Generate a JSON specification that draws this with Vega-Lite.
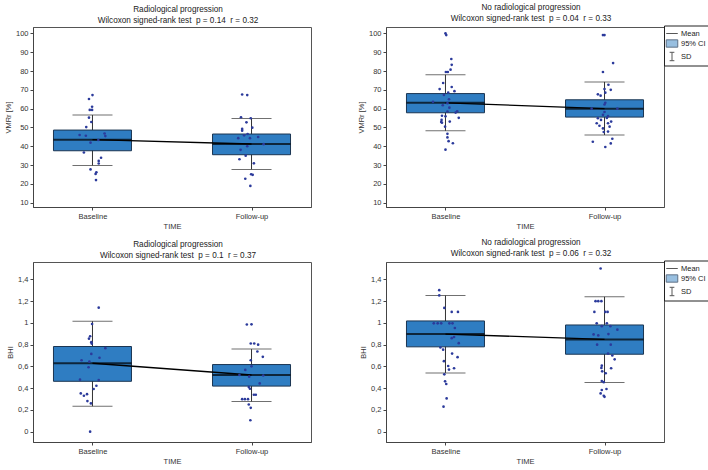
{
  "$schema": "https://vega.github.io/schema/vega-lite/v6.json",
  "padding": {"left": 3, "top": 2, "right": 0, "bottom": 0},
  "config": {
    "font": "Liberation Sans",
    "view": {"stroke": "#555", "strokeWidth": 1},
    "axis": {"labelFontSize": 7.5, "titleFontSize": 7.5, "titleFontWeight": "normal", "labelColor": "#333", "titleColor": "#333", "tickColor": "#444", "domainColor": "#444", "tickSize": 3, "labelPadding": 2, "titlePadding": 3, "grid": false, "labelOverlap": false},
    "legend": {"title": null, "strokeColor": "#222", "fillColor": "white", "padding": 2, "labelFontSize": 7.5, "labelColor": "#222", "symbolSize": 110, "symbolStrokeWidth": 1, "rowPadding": 0, "labelOffset": 3, "cornerRadius": 0},
    "title": {"fontSize": 8.2, "fontWeight": "normal", "color": "#222", "offset": 2, "lineHeight": 10.6, "anchor": "middle", "frame": "group", "dx": 6}
  },
  "resolve": {
    "scale": {"shape": "independent", "fill": "independent", "stroke": "independent"},
    "legend": {"shape": "independent", "fill": "independent", "stroke": "independent"}
  },
  "datasets": {
    "A_stats": [
      {"time": "Baseline", "mean": 43.5, "ciLo": 37.6, "ciHi": 48.6, "sdLo": 29.8, "sdHi": 56.6},
      {"time": "Follow-up", "mean": 41.2, "ciLo": 35.5, "ciHi": 46.5, "sdLo": 27.7, "sdHi": 54.8}
    ],
    "B_stats": [
      {"time": "Baseline", "mean": 63.1, "ciLo": 57.8, "ciHi": 68.0, "sdLo": 48.2, "sdHi": 78.0},
      {"time": "Follow-up", "mean": 60.0, "ciLo": 55.5, "ciHi": 64.7, "sdLo": 46.0, "sdHi": 74.2}
    ],
    "C_stats": [
      {"time": "Baseline", "mean": 0.629, "ciLo": 0.463, "ciHi": 0.783, "sdLo": 0.234, "sdHi": 1.015},
      {"time": "Follow-up", "mean": 0.521, "ciLo": 0.419, "ciHi": 0.617, "sdLo": 0.278, "sdHi": 0.759}
    ],
    "D_stats": [
      {"time": "Baseline", "mean": 0.897, "ciLo": 0.78, "ciHi": 1.018, "sdLo": 0.54, "sdHi": 1.252},
      {"time": "Follow-up", "mean": 0.848, "ciLo": 0.712, "ciHi": 0.981, "sdLo": 0.453, "sdHi": 1.24}
    ],
    "A_pts": [
      {"time": "Baseline", "value": 67.2, "jitter": 0.0},
      {"time": "Baseline", "value": 65.1, "jitter": -0.09},
      {"time": "Baseline", "value": 61.0, "jitter": -0.01},
      {"time": "Baseline", "value": 59.3, "jitter": -0.07},
      {"time": "Baseline", "value": 59.3, "jitter": -0.01},
      {"time": "Baseline", "value": 55.2, "jitter": -0.09},
      {"time": "Baseline", "value": 52.9, "jitter": -0.03},
      {"time": "Baseline", "value": 50.2, "jitter": -0.16},
      {"time": "Baseline", "value": 46.0, "jitter": -0.33},
      {"time": "Baseline", "value": 45.6, "jitter": -0.17},
      {"time": "Baseline", "value": 46.8, "jitter": 0.31},
      {"time": "Baseline", "value": 45.4, "jitter": 0.33},
      {"time": "Baseline", "value": 43.3, "jitter": 0.15},
      {"time": "Baseline", "value": 41.9, "jitter": -0.05},
      {"time": "Baseline", "value": 36.7, "jitter": -0.22},
      {"time": "Baseline", "value": 33.9, "jitter": 0.22},
      {"time": "Baseline", "value": 32.2, "jitter": 0.16},
      {"time": "Baseline", "value": 30.8, "jitter": 0.16},
      {"time": "Baseline", "value": 27.7, "jitter": -0.05},
      {"time": "Baseline", "value": 26.2, "jitter": 0.10},
      {"time": "Baseline", "value": 25.3, "jitter": 0.08},
      {"time": "Baseline", "value": 22.0, "jitter": 0.09},
      {"time": "Follow-up", "value": 67.5, "jitter": -0.24},
      {"time": "Follow-up", "value": 67.2, "jitter": -0.11},
      {"time": "Follow-up", "value": 55.4, "jitter": -0.27},
      {"time": "Follow-up", "value": 54.9, "jitter": -0.02},
      {"time": "Follow-up", "value": 52.7, "jitter": -0.13},
      {"time": "Follow-up", "value": 49.9, "jitter": 0.02},
      {"time": "Follow-up", "value": 49.2, "jitter": -0.24},
      {"time": "Follow-up", "value": 48.3, "jitter": -0.24},
      {"time": "Follow-up", "value": 46.5, "jitter": -0.10},
      {"time": "Follow-up", "value": 45.8, "jitter": -0.19},
      {"time": "Follow-up", "value": 44.9, "jitter": 0.17},
      {"time": "Follow-up", "value": 44.3, "jitter": -0.34},
      {"time": "Follow-up", "value": 44.3, "jitter": -0.04},
      {"time": "Follow-up", "value": 41.1, "jitter": 0.31},
      {"time": "Follow-up", "value": 40.0, "jitter": -0.11},
      {"time": "Follow-up", "value": 38.1, "jitter": -0.28},
      {"time": "Follow-up", "value": 35.0, "jitter": -0.15},
      {"time": "Follow-up", "value": 33.1, "jitter": -0.31},
      {"time": "Follow-up", "value": 30.9, "jitter": 0.06},
      {"time": "Follow-up", "value": 25.1, "jitter": -0.01},
      {"time": "Follow-up", "value": 24.8, "jitter": 0.03},
      {"time": "Follow-up", "value": 22.7, "jitter": -0.16},
      {"time": "Follow-up", "value": 18.9, "jitter": -0.03}
    ],
    "B_pts": [
      {"time": "Baseline", "value": 100.0, "jitter": 0.0},
      {"time": "Baseline", "value": 99.1, "jitter": 0.02},
      {"time": "Baseline", "value": 86.4, "jitter": 0.15},
      {"time": "Baseline", "value": 83.3, "jitter": 0.16},
      {"time": "Baseline", "value": 80.7, "jitter": 0.13},
      {"time": "Baseline", "value": 79.5, "jitter": 0.01},
      {"time": "Baseline", "value": 79.5, "jitter": 0.06},
      {"time": "Baseline", "value": 73.6, "jitter": -0.06},
      {"time": "Baseline", "value": 71.5, "jitter": 0.16},
      {"time": "Baseline", "value": 70.4, "jitter": -0.15},
      {"time": "Baseline", "value": 69.3, "jitter": 0.23},
      {"time": "Baseline", "value": 68.5, "jitter": 0.07},
      {"time": "Baseline", "value": 67.3, "jitter": -0.04},
      {"time": "Baseline", "value": 65.0, "jitter": 0.09},
      {"time": "Baseline", "value": 63.6, "jitter": -0.32},
      {"time": "Baseline", "value": 62.9, "jitter": 0.05},
      {"time": "Baseline", "value": 61.8, "jitter": -0.07},
      {"time": "Baseline", "value": 60.5, "jitter": 0.10},
      {"time": "Baseline", "value": 58.6, "jitter": 0.30},
      {"time": "Baseline", "value": 57.9, "jitter": 0.26},
      {"time": "Baseline", "value": 58.5, "jitter": 0.05},
      {"time": "Baseline", "value": 56.2, "jitter": -0.09},
      {"time": "Baseline", "value": 55.9, "jitter": 0.0},
      {"time": "Baseline", "value": 55.1, "jitter": 0.34},
      {"time": "Baseline", "value": 54.0, "jitter": -0.10},
      {"time": "Baseline", "value": 52.9, "jitter": -0.11},
      {"time": "Baseline", "value": 52.5, "jitter": -0.09},
      {"time": "Baseline", "value": 53.1, "jitter": 0.11},
      {"time": "Baseline", "value": 50.4, "jitter": -0.01},
      {"time": "Baseline", "value": 46.6, "jitter": 0.05},
      {"time": "Baseline", "value": 44.7, "jitter": 0.05},
      {"time": "Baseline", "value": 42.7, "jitter": 0.08},
      {"time": "Baseline", "value": 41.6, "jitter": 0.19},
      {"time": "Baseline", "value": 38.2, "jitter": 0.0},
      {"time": "Follow-up", "value": 99.1, "jitter": -0.04},
      {"time": "Follow-up", "value": 99.1, "jitter": 0.0},
      {"time": "Follow-up", "value": 84.2, "jitter": 0.22},
      {"time": "Follow-up", "value": 79.5, "jitter": -0.04},
      {"time": "Follow-up", "value": 72.7, "jitter": 0.10},
      {"time": "Follow-up", "value": 70.4, "jitter": 0.0},
      {"time": "Follow-up", "value": 70.0, "jitter": 0.16},
      {"time": "Follow-up", "value": 68.5, "jitter": 0.02},
      {"time": "Follow-up", "value": 67.6, "jitter": -0.17},
      {"time": "Follow-up", "value": 66.9, "jitter": -0.10},
      {"time": "Follow-up", "value": 63.1, "jitter": 0.02},
      {"time": "Follow-up", "value": 62.2, "jitter": 0.0},
      {"time": "Follow-up", "value": 60.0, "jitter": -0.33},
      {"time": "Follow-up", "value": 60.0, "jitter": 0.33},
      {"time": "Follow-up", "value": 58.2, "jitter": 0.0},
      {"time": "Follow-up", "value": 56.7, "jitter": -0.04},
      {"time": "Follow-up", "value": 56.0, "jitter": 0.09},
      {"time": "Follow-up", "value": 55.0, "jitter": 0.06},
      {"time": "Follow-up", "value": 54.9, "jitter": -0.17},
      {"time": "Follow-up", "value": 54.0, "jitter": -0.09},
      {"time": "Follow-up", "value": 53.1, "jitter": 0.17},
      {"time": "Follow-up", "value": 52.2, "jitter": 0.09},
      {"time": "Follow-up", "value": 52.2, "jitter": -0.20},
      {"time": "Follow-up", "value": 50.9, "jitter": -0.13},
      {"time": "Follow-up", "value": 50.4, "jitter": 0.13},
      {"time": "Follow-up", "value": 49.5, "jitter": -0.04},
      {"time": "Follow-up", "value": 47.8, "jitter": 0.09},
      {"time": "Follow-up", "value": 47.6, "jitter": -0.02},
      {"time": "Follow-up", "value": 44.0, "jitter": 0.20},
      {"time": "Follow-up", "value": 42.4, "jitter": -0.30},
      {"time": "Follow-up", "value": 41.5, "jitter": 0.16},
      {"time": "Follow-up", "value": 39.6, "jitter": 0.02}
    ],
    "C_pts": [
      {"time": "Baseline", "value": 1.14, "jitter": 0.16},
      {"time": "Baseline", "value": 0.99, "jitter": -0.01},
      {"time": "Baseline", "value": 0.877, "jitter": -0.06},
      {"time": "Baseline", "value": 0.855, "jitter": -0.09},
      {"time": "Baseline", "value": 0.823, "jitter": -0.03},
      {"time": "Baseline", "value": 0.81, "jitter": -0.02},
      {"time": "Baseline", "value": 0.768, "jitter": 0.33},
      {"time": "Baseline", "value": 0.715, "jitter": -0.03},
      {"time": "Baseline", "value": 0.68, "jitter": 0.18},
      {"time": "Baseline", "value": 0.657, "jitter": -0.28},
      {"time": "Baseline", "value": 0.644, "jitter": -0.08},
      {"time": "Baseline", "value": 0.592, "jitter": -0.10},
      {"time": "Baseline", "value": 0.478, "jitter": -0.32},
      {"time": "Baseline", "value": 0.474, "jitter": 0.16},
      {"time": "Baseline", "value": 0.422, "jitter": 0.10},
      {"time": "Baseline", "value": 0.392, "jitter": 0.03},
      {"time": "Baseline", "value": 0.352, "jitter": -0.30},
      {"time": "Baseline", "value": 0.33, "jitter": -0.22},
      {"time": "Baseline", "value": 0.345, "jitter": -0.14},
      {"time": "Baseline", "value": 0.281, "jitter": -0.13},
      {"time": "Baseline", "value": 0.26, "jitter": -0.04},
      {"time": "Baseline", "value": 0.0, "jitter": -0.06},
      {"time": "Follow-up", "value": 0.985, "jitter": -0.12},
      {"time": "Follow-up", "value": 0.987, "jitter": 0.0},
      {"time": "Follow-up", "value": 0.811, "jitter": -0.02},
      {"time": "Follow-up", "value": 0.811, "jitter": 0.07},
      {"time": "Follow-up", "value": 0.8, "jitter": 0.17},
      {"time": "Follow-up", "value": 0.737, "jitter": 0.15},
      {"time": "Follow-up", "value": 0.688, "jitter": 0.29},
      {"time": "Follow-up", "value": 0.657, "jitter": -0.02},
      {"time": "Follow-up", "value": 0.601, "jitter": 0.0},
      {"time": "Follow-up", "value": 0.568, "jitter": -0.16},
      {"time": "Follow-up", "value": 0.521, "jitter": -0.31},
      {"time": "Follow-up", "value": 0.516, "jitter": 0.30},
      {"time": "Follow-up", "value": 0.506, "jitter": -0.06},
      {"time": "Follow-up", "value": 0.444, "jitter": 0.21},
      {"time": "Follow-up", "value": 0.41, "jitter": -0.07},
      {"time": "Follow-up", "value": 0.395, "jitter": -0.04},
      {"time": "Follow-up", "value": 0.339, "jitter": 0.06},
      {"time": "Follow-up", "value": 0.339, "jitter": 0.11},
      {"time": "Follow-up", "value": 0.299, "jitter": -0.24},
      {"time": "Follow-up", "value": 0.299, "jitter": -0.17},
      {"time": "Follow-up", "value": 0.299, "jitter": -0.09},
      {"time": "Follow-up", "value": 0.25, "jitter": -0.07},
      {"time": "Follow-up", "value": 0.219, "jitter": -0.02},
      {"time": "Follow-up", "value": 0.105, "jitter": -0.03}
    ],
    "D_pts": [
      {"time": "Baseline", "value": 1.301, "jitter": -0.16},
      {"time": "Baseline", "value": 1.253, "jitter": -0.16},
      {"time": "Baseline", "value": 1.138, "jitter": -0.03},
      {"time": "Baseline", "value": 1.101, "jitter": 0.16},
      {"time": "Baseline", "value": 1.101, "jitter": 0.32},
      {"time": "Baseline", "value": 0.996, "jitter": -0.30},
      {"time": "Baseline", "value": 0.996, "jitter": -0.20},
      {"time": "Baseline", "value": 0.996, "jitter": -0.11},
      {"time": "Baseline", "value": 0.996, "jitter": 0.10},
      {"time": "Baseline", "value": 0.996, "jitter": 0.18},
      {"time": "Baseline", "value": 0.953, "jitter": 0.24},
      {"time": "Baseline", "value": 0.87, "jitter": 0.22},
      {"time": "Baseline", "value": 0.86, "jitter": 0.16},
      {"time": "Baseline", "value": 0.814, "jitter": 0.34},
      {"time": "Baseline", "value": 0.774, "jitter": -0.13},
      {"time": "Baseline", "value": 0.754, "jitter": -0.06},
      {"time": "Baseline", "value": 0.718, "jitter": 0.17},
      {"time": "Baseline", "value": 0.685, "jitter": 0.31},
      {"time": "Baseline", "value": 0.648, "jitter": -0.04},
      {"time": "Baseline", "value": 0.604, "jitter": 0.07},
      {"time": "Baseline", "value": 0.571, "jitter": 0.09},
      {"time": "Baseline", "value": 0.583, "jitter": 0.22},
      {"time": "Baseline", "value": 0.527, "jitter": -0.03},
      {"time": "Baseline", "value": 0.463, "jitter": -0.01},
      {"time": "Baseline", "value": 0.438, "jitter": 0.02},
      {"time": "Baseline", "value": 0.306, "jitter": 0.03},
      {"time": "Baseline", "value": 0.23, "jitter": -0.05},
      {"time": "Follow-up", "value": 1.5, "jitter": -0.10},
      {"time": "Follow-up", "value": 1.2, "jitter": -0.23},
      {"time": "Follow-up", "value": 1.2, "jitter": -0.16},
      {"time": "Follow-up", "value": 1.2, "jitter": -0.08},
      {"time": "Follow-up", "value": 1.101, "jitter": -0.26},
      {"time": "Follow-up", "value": 1.101, "jitter": 0.02},
      {"time": "Follow-up", "value": 1.101, "jitter": 0.08},
      {"time": "Follow-up", "value": 0.996, "jitter": -0.20},
      {"time": "Follow-up", "value": 0.996, "jitter": 0.06},
      {"time": "Follow-up", "value": 0.97, "jitter": -0.07},
      {"time": "Follow-up", "value": 0.97, "jitter": 0.15},
      {"time": "Follow-up", "value": 0.938, "jitter": 0.33},
      {"time": "Follow-up", "value": 0.894, "jitter": -0.28},
      {"time": "Follow-up", "value": 0.885, "jitter": -0.16},
      {"time": "Follow-up", "value": 0.897, "jitter": 0.10},
      {"time": "Follow-up", "value": 0.8, "jitter": -0.19},
      {"time": "Follow-up", "value": 0.8, "jitter": 0.16},
      {"time": "Follow-up", "value": 0.718, "jitter": 0.09},
      {"time": "Follow-up", "value": 0.7, "jitter": 0.20},
      {"time": "Follow-up", "value": 0.665, "jitter": 0.26},
      {"time": "Follow-up", "value": 0.607, "jitter": -0.07},
      {"time": "Follow-up", "value": 0.586, "jitter": -0.08},
      {"time": "Follow-up", "value": 0.583, "jitter": 0.17},
      {"time": "Follow-up", "value": 0.555, "jitter": -0.06},
      {"time": "Follow-up", "value": 0.537, "jitter": 0.03},
      {"time": "Follow-up", "value": 0.466, "jitter": -0.07},
      {"time": "Follow-up", "value": 0.455, "jitter": -0.02},
      {"time": "Follow-up", "value": 0.392, "jitter": 0.05},
      {"time": "Follow-up", "value": 0.383, "jitter": -0.07},
      {"time": "Follow-up", "value": 0.352, "jitter": -0.10},
      {"time": "Follow-up", "value": 0.33, "jitter": -0.02},
      {"time": "Follow-up", "value": 0.32, "jitter": 0.0}
    ],
    "legendItems": [
      {"item": "Mean"}, {"item": "95% CI"}, {"item": "SD"}
    ]
  },
  "columns": 2,
  "spacing": {"column": 44, "row": 6},
  "concat": [
    {
      "width": 278, "height": 180,
      "title": {"text": ["Radiological progression", "Wilcoxon signed-rank test \u00a0p = 0.14 \u00a0r = 0.32"]},
      "layer": [
        {"data": {"name": "A_stats"}, "mark": {"type": "rule", "color": "#333", "strokeWidth": 1},
         "encoding": {"x": {"field": "time", "type": "nominal", "sort": null, "scale": {"type": "point", "padding": 0.374, "domain": ["Baseline", "Follow-up"]}, "axis": {"title": "TIME", "labelAngle": 0}},
                      "y": {"field": "sdLo", "type": "quantitative", "title": "VMRr [%]", "scale": {"domain": [7.7, 103.4], "nice": false, "zero": false}, "axis": {"values": [10, 20, 30, 40, 50, 60, 70, 80, 90, 100], "tickCount": 20, "labelOverlap": false}},
                      "y2": {"field": "sdHi"}}},
        {"data": {"name": "A_stats"}, "mark": {"type": "bar", "width": 78, "fill": "#2f7dc2", "stroke": "#1b3552", "strokeWidth": 1},
         "encoding": {"x": {"field": "time", "type": "nominal", "sort": null}, "y": {"field": "ciLo", "type": "quantitative", "title": "VMRr [%]"}, "y2": {"field": "ciHi"}}},
        {"data": {"name": "A_stats"}, "mark": {"type": "tick", "size": 40, "thickness": 1, "color": "#333"},
         "encoding": {"x": {"field": "time", "type": "nominal", "sort": null}, "y": {"field": "sdHi", "type": "quantitative", "title": "VMRr [%]"}}},
        {"data": {"name": "A_stats"}, "mark": {"type": "tick", "size": 40, "thickness": 1, "color": "#333"},
         "encoding": {"x": {"field": "time", "type": "nominal", "sort": null}, "y": {"field": "sdLo", "type": "quantitative", "title": "VMRr [%]"}}},
        {"data": {"name": "A_stats"}, "mark": {"type": "tick", "size": 78, "thickness": 2, "color": "#000"},
         "encoding": {"x": {"field": "time", "type": "nominal", "sort": null}, "y": {"field": "mean", "type": "quantitative", "title": "VMRr [%]"}}},
        {"data": {"name": "A_stats"}, "mark": {"type": "line", "color": "#000", "strokeWidth": 1.3},
         "encoding": {"x": {"field": "time", "type": "nominal", "sort": null}, "y": {"field": "mean", "type": "quantitative", "title": "VMRr [%]"}}},
        {"data": {"name": "A_pts"}, "mark": {"type": "circle", "size": 7, "color": "#2b3a9b", "opacity": 1},
         "encoding": {"x": {"field": "time", "type": "nominal", "sort": null}, "xOffset": {"field": "jitter", "type": "quantitative", "scale": {"domain": [-1, 1], "range": [-39, 39]}}, "y": {"field": "value", "type": "quantitative", "title": "VMRr [%]"}}}
      ]
    },
    {
      "width": 278, "height": 180,
      "title": {"text": ["No radiological progression", "Wilcoxon signed-rank test \u00a0p = 0.04 \u00a0r = 0.33"]},
      "layer": [
        {"data": {"name": "B_stats"}, "mark": {"type": "rule", "color": "#333", "strokeWidth": 1},
         "encoding": {"x": {"field": "time", "type": "nominal", "sort": null, "scale": {"type": "point", "padding": 0.374, "domain": ["Baseline", "Follow-up"]}, "axis": {"title": "TIME", "labelAngle": 0}},
                      "y": {"field": "sdLo", "type": "quantitative", "title": "VMRr [%]", "scale": {"domain": [7.7, 103.4], "nice": false, "zero": false}, "axis": {"values": [10, 20, 30, 40, 50, 60, 70, 80, 90, 100], "tickCount": 20, "labelOverlap": false}},
                      "y2": {"field": "sdHi"}}},
        {"data": {"name": "B_stats"}, "mark": {"type": "bar", "width": 78, "fill": "#2f7dc2", "stroke": "#1b3552", "strokeWidth": 1},
         "encoding": {"x": {"field": "time", "type": "nominal", "sort": null}, "y": {"field": "ciLo", "type": "quantitative", "title": "VMRr [%]"}, "y2": {"field": "ciHi"}}},
        {"data": {"name": "B_stats"}, "mark": {"type": "tick", "size": 40, "thickness": 1, "color": "#333"},
         "encoding": {"x": {"field": "time", "type": "nominal", "sort": null}, "y": {"field": "sdHi", "type": "quantitative", "title": "VMRr [%]"}}},
        {"data": {"name": "B_stats"}, "mark": {"type": "tick", "size": 40, "thickness": 1, "color": "#333"},
         "encoding": {"x": {"field": "time", "type": "nominal", "sort": null}, "y": {"field": "sdLo", "type": "quantitative", "title": "VMRr [%]"}}},
        {"data": {"name": "B_stats"}, "mark": {"type": "tick", "size": 78, "thickness": 2, "color": "#000"},
         "encoding": {"x": {"field": "time", "type": "nominal", "sort": null}, "y": {"field": "mean", "type": "quantitative", "title": "VMRr [%]"}}},
        {"data": {"name": "B_stats"}, "mark": {"type": "line", "color": "#000", "strokeWidth": 1.3},
         "encoding": {"x": {"field": "time", "type": "nominal", "sort": null}, "y": {"field": "mean", "type": "quantitative", "title": "VMRr [%]"}}},
        {"data": {"name": "B_pts"}, "mark": {"type": "circle", "size": 7, "color": "#2b3a9b", "opacity": 1},
         "encoding": {"x": {"field": "time", "type": "nominal", "sort": null}, "xOffset": {"field": "jitter", "type": "quantitative", "scale": {"domain": [-1, 1], "range": [-39, 39]}}, "y": {"field": "value", "type": "quantitative", "title": "VMRr [%]"}}},
        {"data": {"name": "legendItems"}, "transform": [{"filter": "false"}], "mark": {"type": "point", "strokeWidth": 1},
         "encoding": {
           "shape": {"field": "item", "type": "nominal", "scale": {"domain": ["Mean", "95% CI", "SD"], "range": ["M-1.1,0H1.1", "M-1.1,-0.7H1.1V0.7H-1.1Z", "M-0.45,-0.8H0.45M0,-0.8V0.8M-0.45,0.8H0.45"]},
                     "legend": {"orient": "none", "legendX": 278, "legendY": -1.5}},
           "fill": {"field": "item", "type": "nominal", "scale": {"domain": ["Mean", "95% CI", "SD"], "range": ["transparent", "#2f7dc2", "transparent"]},
                     "legend": {"orient": "none", "legendX": 278, "legendY": -1.5}},
           "stroke": {"field": "item", "type": "nominal", "scale": {"domain": ["Mean", "95% CI", "SD"], "range": ["#111", "#1b3552", "#111"]},
                     "legend": {"orient": "none", "legendX": 278, "legendY": -1.5}}
         }}
      ]
    },
    {
      "width": 278, "height": 180,
      "title": {"text": ["Radiological progression", "Wilcoxon signed-rank test \u00a0p = 0.1 \u00a0r = 0.37"]},
      "layer": [
        {"data": {"name": "C_stats"}, "mark": {"type": "rule", "color": "#333", "strokeWidth": 1},
         "encoding": {"x": {"field": "time", "type": "nominal", "sort": null, "scale": {"type": "point", "padding": 0.374, "domain": ["Baseline", "Follow-up"]}, "axis": {"title": "TIME", "labelAngle": 0}},
                      "y": {"field": "sdLo", "type": "quantitative", "title": "BHI", "scale": {"domain": [-0.095, 1.56], "nice": false, "zero": false}, "axis": {"values": [0, 0.2, 0.4, 0.6, 0.8, 1, 1.2, 1.4], "tickCount": 20, "labelOverlap": false, "labelExpr": "replace(format(datum.value, '.1~f'), '.', ',')"}},
                      "y2": {"field": "sdHi"}}},
        {"data": {"name": "C_stats"}, "mark": {"type": "bar", "width": 78, "fill": "#2f7dc2", "stroke": "#1b3552", "strokeWidth": 1},
         "encoding": {"x": {"field": "time", "type": "nominal", "sort": null}, "y": {"field": "ciLo", "type": "quantitative", "title": "BHI"}, "y2": {"field": "ciHi"}}},
        {"data": {"name": "C_stats"}, "mark": {"type": "tick", "size": 40, "thickness": 1, "color": "#333"},
         "encoding": {"x": {"field": "time", "type": "nominal", "sort": null}, "y": {"field": "sdHi", "type": "quantitative", "title": "BHI"}}},
        {"data": {"name": "C_stats"}, "mark": {"type": "tick", "size": 40, "thickness": 1, "color": "#333"},
         "encoding": {"x": {"field": "time", "type": "nominal", "sort": null}, "y": {"field": "sdLo", "type": "quantitative", "title": "BHI"}}},
        {"data": {"name": "C_stats"}, "mark": {"type": "tick", "size": 78, "thickness": 2, "color": "#000"},
         "encoding": {"x": {"field": "time", "type": "nominal", "sort": null}, "y": {"field": "mean", "type": "quantitative", "title": "BHI"}}},
        {"data": {"name": "C_stats"}, "mark": {"type": "line", "color": "#000", "strokeWidth": 1.3},
         "encoding": {"x": {"field": "time", "type": "nominal", "sort": null}, "y": {"field": "mean", "type": "quantitative", "title": "BHI"}}},
        {"data": {"name": "C_pts"}, "mark": {"type": "circle", "size": 7, "color": "#2b3a9b", "opacity": 1},
         "encoding": {"x": {"field": "time", "type": "nominal", "sort": null}, "xOffset": {"field": "jitter", "type": "quantitative", "scale": {"domain": [-1, 1], "range": [-39, 39]}}, "y": {"field": "value", "type": "quantitative", "title": "BHI"}}}
      ]
    },
    {
      "width": 278, "height": 180,
      "title": {"text": ["No radiological progression", "Wilcoxon signed-rank test \u00a0p = 0.06 \u00a0r = 0.32"]},
      "layer": [
        {"data": {"name": "D_stats"}, "mark": {"type": "rule", "color": "#333", "strokeWidth": 1},
         "encoding": {"x": {"field": "time", "type": "nominal", "sort": null, "scale": {"type": "point", "padding": 0.374, "domain": ["Baseline", "Follow-up"]}, "axis": {"title": "TIME", "labelAngle": 0}},
                      "y": {"field": "sdLo", "type": "quantitative", "title": "BHI", "scale": {"domain": [-0.095, 1.56], "nice": false, "zero": false}, "axis": {"values": [0, 0.2, 0.4, 0.6, 0.8, 1, 1.2, 1.4], "tickCount": 20, "labelOverlap": false, "labelExpr": "replace(format(datum.value, '.1~f'), '.', ',')"}},
                      "y2": {"field": "sdHi"}}},
        {"data": {"name": "D_stats"}, "mark": {"type": "bar", "width": 78, "fill": "#2f7dc2", "stroke": "#1b3552", "strokeWidth": 1},
         "encoding": {"x": {"field": "time", "type": "nominal", "sort": null}, "y": {"field": "ciLo", "type": "quantitative", "title": "BHI"}, "y2": {"field": "ciHi"}}},
        {"data": {"name": "D_stats"}, "mark": {"type": "tick", "size": 40, "thickness": 1, "color": "#333"},
         "encoding": {"x": {"field": "time", "type": "nominal", "sort": null}, "y": {"field": "sdHi", "type": "quantitative", "title": "BHI"}}},
        {"data": {"name": "D_stats"}, "mark": {"type": "tick", "size": 40, "thickness": 1, "color": "#333"},
         "encoding": {"x": {"field": "time", "type": "nominal", "sort": null}, "y": {"field": "sdLo", "type": "quantitative", "title": "BHI"}}},
        {"data": {"name": "D_stats"}, "mark": {"type": "tick", "size": 78, "thickness": 2, "color": "#000"},
         "encoding": {"x": {"field": "time", "type": "nominal", "sort": null}, "y": {"field": "mean", "type": "quantitative", "title": "BHI"}}},
        {"data": {"name": "D_stats"}, "mark": {"type": "line", "color": "#000", "strokeWidth": 1.3},
         "encoding": {"x": {"field": "time", "type": "nominal", "sort": null}, "y": {"field": "mean", "type": "quantitative", "title": "BHI"}}},
        {"data": {"name": "D_pts"}, "mark": {"type": "circle", "size": 7, "color": "#2b3a9b", "opacity": 1},
         "encoding": {"x": {"field": "time", "type": "nominal", "sort": null}, "xOffset": {"field": "jitter", "type": "quantitative", "scale": {"domain": [-1, 1], "range": [-39, 39]}}, "y": {"field": "value", "type": "quantitative", "title": "BHI"}}},
        {"data": {"name": "legendItems"}, "transform": [{"filter": "false"}], "mark": {"type": "point", "strokeWidth": 1},
         "encoding": {
           "shape": {"field": "item", "type": "nominal", "scale": {"domain": ["Mean", "95% CI", "SD"], "range": ["M-1.1,0H1.1", "M-1.1,-0.7H1.1V0.7H-1.1Z", "M-0.45,-0.8H0.45M0,-0.8V0.8M-0.45,0.8H0.45"]},
                     "legend": {"orient": "none", "legendX": 278, "legendY": -1.5}},
           "fill": {"field": "item", "type": "nominal", "scale": {"domain": ["Mean", "95% CI", "SD"], "range": ["transparent", "#2f7dc2", "transparent"]},
                     "legend": {"orient": "none", "legendX": 278, "legendY": -1.5}},
           "stroke": {"field": "item", "type": "nominal", "scale": {"domain": ["Mean", "95% CI", "SD"], "range": ["#111", "#1b3552", "#111"]},
                     "legend": {"orient": "none", "legendX": 278, "legendY": -1.5}}
         }}
      ]
    }
  ]
}
